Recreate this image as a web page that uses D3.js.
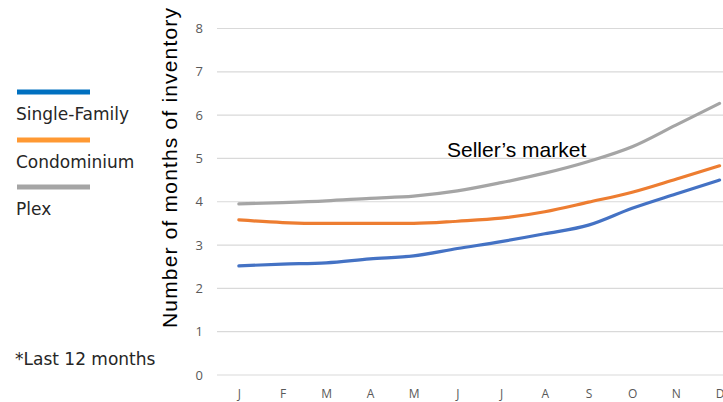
<!DOCTYPE html>
<html>
<head>
<meta charset="utf-8">
<script src="https://cdn.jsdelivr.net/npm/d3@7"></script>
<style>
  body { margin: 0; background: #fff; }
  svg { display: block; }
</style>
</head>
<body>
<div id="grafico"></div>
<script>
// Months and series (months of inventory)
const months = ["J", "F", "M", "A", "M", "J", "J", "A", "S", "O", "N", "D"]
const singleFamily = [2.52, 2.56, 2.59, 2.68, 2.75, 2.92, 3.08, 3.26, 3.46, 3.85, 4.18, 4.50]
const condominium = [3.58, 3.52, 3.50, 3.50, 3.50, 3.55, 3.62, 3.77, 3.99, 4.22, 4.52, 4.83]
const plex = [3.95, 3.98, 4.02, 4.08, 4.13, 4.25, 4.44, 4.66, 4.93, 5.27, 5.77, 6.27]
const yTicks = [0, 1, 2, 3, 4, 5, 6, 7, 8]

const seriesNames = ["Single-Family", "Condominium", "Plex"]
const seriesValues = [singleFamily, condominium, plex]
const lineColors = ["#4472C4", "#ED7D31", "#A5A5A5"]
const legendColors = ["#0070C0", "#FF9933", "#A5A5A5"]

const W = 723, H = 402
const plot = {left: 217, top: 28.5, step: 43.7, bottom: 375}

const svg = d3.select("#grafico")
  .append("svg")
  .attr("width", W)
  .attr("height", H)

// x scale: one point per month, half a step in from each end
const x = d3.scalePoint()
  .domain(d3.range(months.length))
  .range([plot.left + plot.step / 2, plot.left + plot.step * (months.length - 0.5)])

const y = d3.scaleLinear()
  .domain([0, 8])
  .range([plot.bottom, plot.top])

// Gridlines
svg.append("g")
  .selectAll("line")
  .data(yTicks)
  .join("line")
    .attr("x1", plot.left)
    .attr("x2", plot.left + plot.step * months.length)
    .attr("y1", d => y(d))
    .attr("y2", d => y(d))
    .attr("stroke", "#D9D9D9")
    .attr("stroke-width", 1.2)

// y axis labels
const yAxis = svg.append("g")
  .attr("transform", `translate(${plot.left},0)`)
  .call(d3.axisLeft(y).tickValues(yTicks).tickSize(0).tickPadding(14))
yAxis.select(".domain").remove()
yAxis.selectAll("text")
  .attr("fill", "#595959")
  .style("font-family", "'Open Sans', sans-serif")
  .style("font-size", "13px")

// x axis labels
const xAxis = svg.append("g")
  .attr("transform", `translate(0,${plot.bottom})`)
  .call(d3.axisBottom(x).tickFormat(i => months[i]).tickSize(0).tickPadding(14))
xAxis.select(".domain").remove()
xAxis.selectAll("text")
  .attr("fill", "#595959")
  .style("font-family", "'Open Sans', sans-serif")
  .style("font-size", "12px")

// Lines
const line = d3.line()
  .x((d, i) => x(i))
  .y(d => y(d))
  .curve(d3.curveMonotoneX)

svg.append("g")
  .selectAll("path")
  .data(seriesValues)
  .join("path")
    .attr("d", d => line(d))
    .attr("fill", "none")
    .attr("stroke", (d, i) => lineColors[i])
    .attr("stroke-width", 3.2)
    .attr("stroke-linecap", "round")

// Annotation
svg.append("text")
  .attr("x", 447)
  .attr("y", 157)
  .style("font-family", "'Liberation Sans', Arial, sans-serif")
  .style("font-size", "21px")
  .attr("fill", "#000")
  .text("Seller\u2019s market")

// Y title
svg.append("text")
  .attr("transform", "rotate(-90)")
  .attr("x", -168)
  .attr("y", 177)
  .attr("text-anchor", "middle")
  .attr("textLength", 320)
  .attr("lengthAdjust", "spacing")
  .style("font-family", "'Liberation Sans', Arial, sans-serif")
  .style("font-size", "21px")
  .attr("fill", "#000")
  .text("Number of months of inventory")

// Legend
const legend = svg.append("g")
const legendY = [92, 140, 187]
seriesNames.forEach((name, i) => {
  legend.append("line")
    .attr("x1", 17).attr("x2", 90)
    .attr("y1", legendY[i]).attr("y2", legendY[i])
    .attr("stroke", legendColors[i])
    .attr("stroke-width", 5)
  legend.append("text")
    .attr("x", 16)
    .attr("y", legendY[i] + 28)
    .style("font-family", "'DejaVu Sans', sans-serif")
    .style("font-size", "17px")
    .attr("fill", "#262626")
    .text(name)
})

svg.append("text")
  .attr("x", 15)
  .attr("y", 365)
  .style("font-family", "'DejaVu Sans', sans-serif")
  .style("font-size", "17px")
  .attr("fill", "#262626")
  .text("*Last 12 months")
</script>
</body>
</html>
